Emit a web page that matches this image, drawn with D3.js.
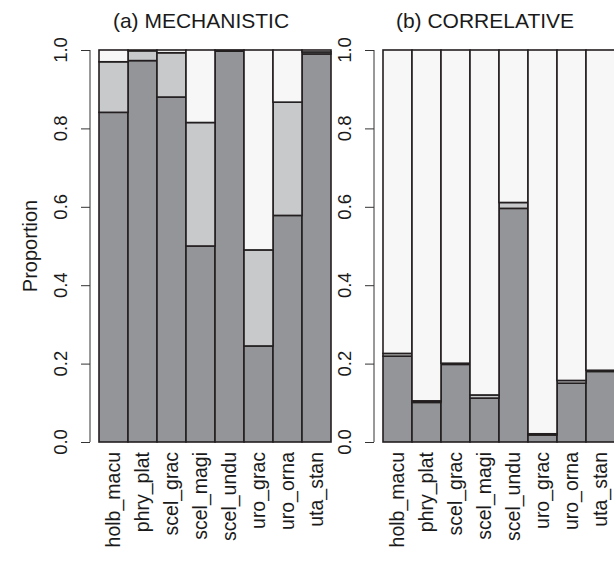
<!DOCTYPE html>
<html>
<head>
<meta charset="utf-8">
<script src="https://cdn.jsdelivr.net/npm/d3@7"></script>
<style>
  body { margin: 0; background: #fff; }
  text { font-family: "Liberation Sans", Arial, sans-serif; fill: #1a1a1a; }
</style>
</head>
<body>
<div id="chart"></div>
<script>
const species = ["holb_macu", "phry_plat", "scel_grac", "scel_magi", "scel_undu", "uro_grac", "uro_orna", "uta_stan"];
const yTicks = [0, 0.2, 0.4, 0.6, 0.8, 1.0];

// MECHANISTIC, bottom to top
const mechDark  = [0.841, 0.973, 0.880, 0.500, 0.997, 0.245, 0.578, 0.990];
const mechLight = [0.129, 0.025, 0.113, 0.315, 0.002, 0.245, 0.289, 0.005];
const mechWhite = [0.030, 0.002, 0.007, 0.185, 0.001, 0.510, 0.133, 0.005];

// CORRELATIVE, bottom to top
const corrDark  = [0.219, 0.101, 0.198, 0.112, 0.596, 0.018, 0.150, 0.180];
const corrLight = [0.007, 0.004, 0.003, 0.008, 0.015, 0.003, 0.007, 0.003];
const corrWhite = [0.774, 0.895, 0.799, 0.880, 0.389, 0.979, 0.843, 0.817];

const fills = { dark: "#939598", light: "#c8c9cb", white: "#f7f7f7" };

const W = 614, H = 562;
const svg = d3.select("#chart").append("svg")
  .attr("width", W)
  .attr("height", H);

const y = d3.scaleLinear().domain([0, 1]).range([442, 50]);

function panel(offset, title, dark, light, white, showYLabel) {
  const g = svg.append("g").attr("transform", `translate(${offset},0)`);

  const rows = species.map((s, i) => ({ species: s, dark: dark[i], light: light[i], white: white[i] }));
  const stack = d3.stack().keys(["dark", "light", "white"])(rows);

  const x = d3.scaleBand().domain(species).range([99, 331]).padding(0);

  g.selectAll(".layer")
    .data(stack)
    .join("g")
    .attr("fill", d => fills[d.key])
    .selectAll("rect")
    .data(d => d)
    .join("rect")
    .attr("x", d => x(d.data.species))
    .attr("width", x.bandwidth())
    .attr("y", d => y(d[1]))
    .attr("height", d => y(d[0]) - y(d[1]))
    .attr("stroke", "#231f20")
    .attr("stroke-width", 1.6);

  // y axis
  const axis = g.append("g")
    .attr("transform", "translate(90,0)")
    .call(d3.axisLeft(y).tickValues(yTicks).tickSize(9).tickFormat(d3.format(".1f")));
  axis.select(".domain").attr("d", `M0,${y(0)}V${y(1)}`).attr("stroke", "#333");
  axis.selectAll(".tick line").attr("stroke", "#333");
  axis.selectAll(".tick text").remove();

  g.selectAll(".ylab")
    .data(yTicks)
    .join("text")
    .attr("transform", d => `translate(67,${y(d)}) rotate(-90)`)
    .attr("text-anchor", "middle")
    .attr("font-size", 18.5)
    .text(d => d3.format(".1f")(d));

  // x labels
  g.selectAll(".xlab")
    .data(species)
    .join("text")
    .attr("transform", d => `translate(${x(d) + x.bandwidth() / 2},452) rotate(-90)`)
    .attr("text-anchor", "end")
    .attr("dy", "0.35em")
    .attr("font-size", 19.5)
    .text(d => d);

  g.append("text")
    .attr("x", 201)
    .attr("y", 28)
    .attr("text-anchor", "middle")
    .attr("font-size", 21)
    .text(title);

  if (showYLabel) {
    g.append("text")
      .attr("transform", `translate(37,${y(0.5)}) rotate(-90)`)
      .attr("text-anchor", "middle")
      .attr("font-size", 20)
      .text("Proportion");
  }
}

panel(0, "(a) MECHANISTIC", mechDark, mechLight, mechWhite, true);
panel(284, "(b) CORRELATIVE", corrDark, corrLight, corrWhite, false);
</script>
</body>
</html>
